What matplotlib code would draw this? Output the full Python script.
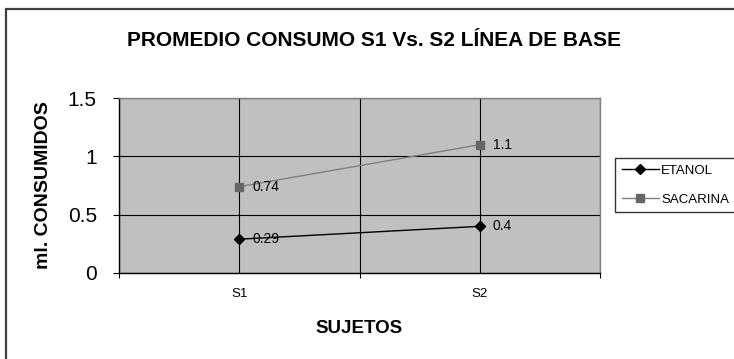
import matplotlib
matplotlib.use("Agg")
import matplotlib.pyplot as plt
from matplotlib.patches import Rectangle
from matplotlib.ticker import FixedLocator

plt.rcParams['font.family'] = ['Liberation Sans', 'DejaVu Sans']

# Data
categories = ["S1", "S2"]
etanol = [0.29, 0.4]
sacarina = [0.74, 1.1]
y_ticks = [0, 0.5, 1, 1.5]
y_tick_labels = ["0", "0.5", "1", "1.5"]

W, H = 734, 359
fig = plt.figure(figsize=(W / 100, H / 100), dpi=100)
fig.patch.set_facecolor("white")

# Outer chart frame (extends past right/bottom edges)
fig.patches.append(Rectangle((5.5 / W, -0.1), 1.2, (H - 8.5) / H + 0.1,
                             transform=fig.transFigure, fill=False,
                             edgecolor="#404040", linewidth=1.6, zorder=0))

ax = fig.add_axes([119 / W, (H - 273) / H, (600 - 119) / W, (273 - 98) / H])
ax.set_facecolor("#C0C0C0")

x = list(range(1, len(categories) + 1))
ax.set_xlim(0.5, len(categories) + 0.5)
ax.set_ylim(0, 1.5)

ax.plot(x, etanol, color="black", linewidth=1.0, marker="D", markersize=4.8,
        markerfacecolor="black", markeredgecolor="black", label="ETANOL", zorder=4)
ax.plot(x, sacarina, color="#808080", linewidth=1.0, marker="s", markersize=6,
        markerfacecolor="#666666", markeredgecolor="#666666", label="SACARINA", zorder=4)

for xi, v in zip(x, etanol):
    ax.annotate(f"{v:g}", (xi, v), xytext=(9.5, 0), textcoords="offset points",
                ha="left", va="center", fontsize=10, color="black", zorder=5)
for xi, v in zip(x, sacarina):
    ax.annotate(f"{v:g}", (xi, v), xytext=(9.5, 0), textcoords="offset points",
                ha="left", va="center", fontsize=10, color="black", zorder=5)

# Axes ticks
ax.set_yticks(y_ticks)
ax.set_yticklabels(y_tick_labels, fontsize=15)
ax.tick_params(axis="y", direction="out", length=4, width=0.8, pad=12, colors="black")

ax.set_xticks(x)
ax.set_xticklabels(categories, fontsize=9.5)
ax.xaxis.set_minor_locator(FixedLocator([0.5 + i for i in range(len(categories) + 1)]))
ax.tick_params(axis="x", which="major", length=0, pad=11)
ax.tick_params(axis="x", which="minor", direction="out", length=3.5, width=0.8)

# Grid
ax.set_axisbelow(True)
ax.grid(axis="y", color="black", linewidth=0.8)
ax.grid(axis="x", which="both", color="black", linewidth=0.8)

for side in ("top", "right"):
    ax.spines[side].set_color("#808080")
    ax.spines[side].set_linewidth(1.0)
for side in ("left", "bottom"):
    ax.spines[side].set_color("black")
    ax.spines[side].set_linewidth(1.0)

ax.set_ylabel("ml. CONSUMIDOS", fontsize=14, fontweight="bold", labelpad=11)
ax.set_xlabel("SUJETOS", fontsize=13.5, fontweight="bold", labelpad=14)

fig.text(374 / W, 1 - 40 / H, "PROMEDIO CONSUMO S1 Vs. S2 LÍNEA DE BASE",
         ha="center", va="center", fontsize=15, fontweight="bold")

leg = fig.legend(loc="upper left", bbox_to_anchor=(615 / W, 1 - 158 / H),
                 frameon=True, fancybox=False, edgecolor="black", fontsize=9.5,
                 handlelength=2.8, handletextpad=0.2, borderpad=0.5,
                 labelspacing=1.25, borderaxespad=0)
leg.get_frame().set_linewidth(1.0)

fig.savefig("out.png", dpi=100)
